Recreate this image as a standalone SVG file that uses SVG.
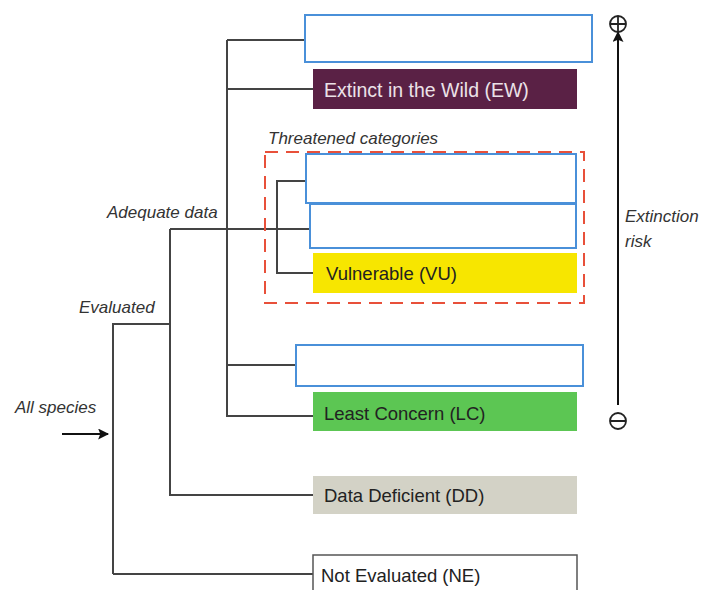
<svg xmlns="http://www.w3.org/2000/svg" width="716" height="590" viewBox="0 0 716 590">
<defs>
<style>
.lbl{font-family:"Liberation Sans",Arial,sans-serif;font-size:18.5px;fill:#222}
.it{font-family:"Liberation Sans",Arial,sans-serif;font-size:17px;font-style:italic;fill:#333}
.blue{fill:#fff;stroke:#4a90d9;stroke-width:2}
.ln{fill:none;stroke:#444;stroke-width:2}
</style>
<marker id="ah" viewBox="0 0 10 10" refX="9" refY="5" markerWidth="13" markerHeight="11" orient="auto-start-reverse" markerUnits="userSpaceOnUse">
<path d="M0,0 L10,5 L0,10 L2,5 z" fill="#111"/>
</marker>
</defs>
<rect width="716" height="590" fill="#fff"/>

<g id="connectors">
<path class="ln" d="M113,574 V324 H170"/>
<path class="ln" d="M170,229 V495 H313"/>
<path class="ln" d="M113,574 H313"/>
<path class="ln" d="M170,229 H310"/>
<path class="ln" d="M227,40 V416 H313"/>
<path class="ln" d="M227,40 H305 M227,89 H313 M227,365 H296"/>
<path class="ln" d="M305,181 H277 V273 H313"/>
<line x1="62" y1="434" x2="108" y2="434" stroke="#111" stroke-width="2" marker-end="url(#ah)"/>
<line x1="618" y1="405" x2="618" y2="32" stroke="#111" stroke-width="2" marker-end="url(#ah)"/>
</g>

<g id="threatened">
<rect x="265" y="152" width="319" height="151" fill="none" stroke="#e8503a" stroke-width="2" stroke-dasharray="13,8"/>
<text class="it" x="268" y="144">Threatened categories</text>
</g>

<g id="ex">
<rect x="313" y="58" width="264" height="5" fill="#444"/>
<rect class="blue" x="305" y="15" width="287" height="47"/>
</g>
<g id="ew">
<rect x="313" y="69" width="264" height="40" fill="#5a2145"/>
<text class="lbl" x="324" y="97" style="fill:#ece2e8;font-size:19.5px">Extinct in the Wild (EW)</text>
</g>
<g id="cr">
<rect class="blue" x="306" y="154" width="270" height="49"/>
</g>
<g id="en">
<rect class="blue" x="310" y="204" width="266" height="44"/>
</g>
<g id="vu">
<rect x="313" y="253" width="264" height="40" fill="#f7e600"/>
<text class="lbl" x="326" y="280">Vulnerable (VU)</text>
</g>
<g id="nt">
<rect class="blue" x="296" y="345" width="287" height="41"/>
</g>
<g id="lc">
<rect x="313" y="392" width="264" height="39" fill="#5cc653"/>
<text class="lbl" x="324" y="420">Least Concern (LC)</text>
</g>
<g id="dd">
<rect x="313" y="476" width="264" height="38" fill="#d3d2c6"/>
<text class="lbl" x="324" y="502">Data Deficient (DD)</text>
</g>
<g id="ne">
<rect x="313" y="555" width="264" height="45" fill="#fff" stroke="#555" stroke-width="1.5"/>
<text class="lbl" x="321" y="582">Not Evaluated (NE)</text>
</g>

<g id="labels">
<text class="it" x="107" y="218">Adequate data</text>
<text class="it" x="79" y="313">Evaluated</text>
<text class="it" x="15" y="413">All species</text>
<text class="it" x="625" y="222">Extinction</text>
<text class="it" x="625" y="247">risk</text>
</g>

<g id="plus">
<circle cx="618" cy="24" r="8" fill="none" stroke="#222" stroke-width="1.8"/>
<path d="M610,24 H626 M618,16 V32" stroke="#222" stroke-width="1.8"/>
</g>
<g id="minus">
<circle cx="618" cy="421" r="8" fill="none" stroke="#222" stroke-width="1.8"/>
<path d="M611,421 H625" stroke="#222" stroke-width="2"/>
</g>
</svg>
